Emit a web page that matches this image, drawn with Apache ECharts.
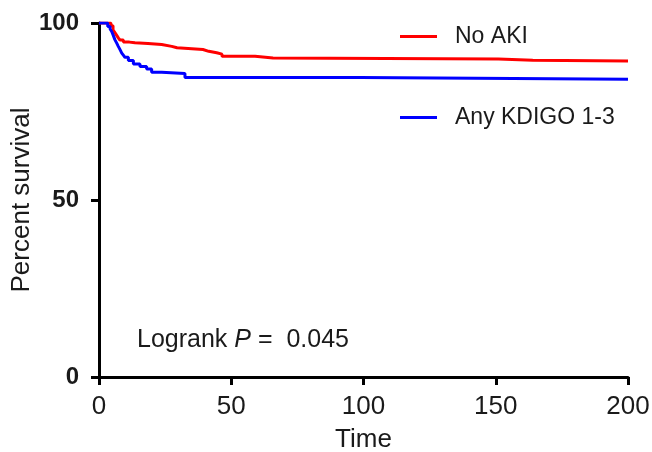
<!DOCTYPE html>
<html>
<head>
<meta charset="utf-8">
<script src="https://cdn.jsdelivr.net/npm/echarts@6/dist/echarts.min.js"></script>
<style>
html,body{margin:0;padding:0;background:#fff;}
#chart{width:652px;height:452px;}
</style>
</head>
<body>
<div id="chart"></div>
<script>
// Kaplan-Meier step data
const seriesNames = ['No AKI', 'Any KDIGO 1-3'];
const timeNoAKI = [0, 4.5, 5.3, 6.0, 6.7, 7.3, 7.9, 9.2, 11.5, 13.6, 18.5, 23.7, 27.5, 29.5, 39.3, 41.5, 44.5, 46.5, 59, 65.8, 151, 164, 200];
const survNoAKI = [100, 99.2, 98.1, 97.3, 96.5, 95.8, 95.2, 94.6, 94.4, 94.2, 93.9, 93.4, 93.0, 92.5, 92.0, 91.6, 91.2, 90.6, 90.1, 89.8, 89.5, 89.3, 89.3];
const timeAKI = [0, 3.3, 4.2, 4.8, 5.4, 6.0, 6.7, 7.3, 8.0, 8.6, 9.2, 9.8, 11.1, 13.0, 15.5, 18.0, 19.9, 23.7, 32.5, 98.7, 200];
const survAKI = [100, 99.0, 98.3, 97.6, 96.5, 95.3, 94.3, 93.4, 92.4, 91.5, 90.9, 90.3, 89.4, 88.4, 87.7, 87.0, 86.1, 85.7, 84.6, 84.1, 84.1];
const xTicks = [0, 50, 100, 150, 200];
const yTicks = [0, 50, 100];
const annotation = ['Logrank ', 'P', ' =  0.045'];

function zip(t, v) { return t.map((x, i) => [x, v[i]]); }

const chart = echarts.init(document.getElementById('chart'), null, {renderer: 'canvas'});
const FONT = '"Liberation Sans", Arial, Helvetica, sans-serif';

chart.setOption({
  animation: false,
  backgroundColor: '#ffffff',
  grid: {left: 99, right: 24, top: 23, bottom: 75, containLabel: false, outerBoundsMode: 'none'},
  title: {
    text: '{a|' + annotation[0] + '}{b|' + annotation[1] + '}{a|' + annotation[2] + '}',
    left: 137, top: 328, padding: 0,
    textStyle: {
      fontWeight: 'normal',
      rich: {
        a: {fontFamily: FONT, fontSize: 25, fontWeight: 'normal', color: '#1a1a1a'},
        b: {fontFamily: FONT, fontSize: 25, fontWeight: 'normal', fontStyle: 'italic', color: '#1a1a1a'}
      }
    }
  },
  legend: {
    orient: 'vertical',
    left: 395, top: 20,
    itemGap: 58,
    itemWidth: 37, itemHeight: 3,
    icon: 'rect',
    data: seriesNames,
    textStyle: {fontFamily: FONT, fontSize: 23, color: '#1a1a1a', padding: [0, 0, 0, 13]}
  },
  xAxis: {
    type: 'value',
    min: 0, max: 200, interval: 50,
    name: 'Time', nameLocation: 'middle', nameGap: 50, nameMoveOverlap: false,
    nameTextStyle: {fontFamily: FONT, fontSize: 26, color: '#1a1a1a'},
    axisLine: {show: true, lineStyle: {color: '#000', width: 3}},
    axisTick: {show: true, length: 8, lineStyle: {color: '#000', width: 3}},
    axisLabel: {margin: 17, fontFamily: FONT, fontSize: 26, color: '#1a1a1a',
      formatter: v => xTicks.includes(v) ? String(v) : ''},
    splitLine: {show: false}
  },
  yAxis: {
    type: 'value',
    min: 0, max: 100, interval: 50,
    name: 'Percent survival', nameLocation: 'middle', nameGap: 64, nameMoveOverlap: false,
    nameTextStyle: {fontFamily: FONT, fontSize: 26, color: '#1a1a1a'},
    axisLine: {show: true, lineStyle: {color: '#000', width: 3}},
    axisTick: {show: true, length: 8, lineStyle: {color: '#000', width: 3}},
    axisLabel: {margin: 20, fontFamily: FONT, fontSize: 24, fontWeight: 'bold', color: '#1a1a1a',
      formatter: v => yTicks.includes(v) ? String(v) : ''},
    splitLine: {show: false}
  },
  series: [
    {
      name: seriesNames[0], type: 'line', step: 'end', showSymbol: false,
      data: zip(timeNoAKI, survNoAKI),
      itemStyle: {color: '#ff0000'},
      lineStyle: {color: '#ff0000', width: 3}
    },
    {
      name: seriesNames[1], type: 'line', step: 'end', showSymbol: false,
      data: zip(timeAKI, survAKI),
      itemStyle: {color: '#0000ff'},
      lineStyle: {color: '#0000ff', width: 3}
    }
  ]
});
</script>
</body>
</html>
